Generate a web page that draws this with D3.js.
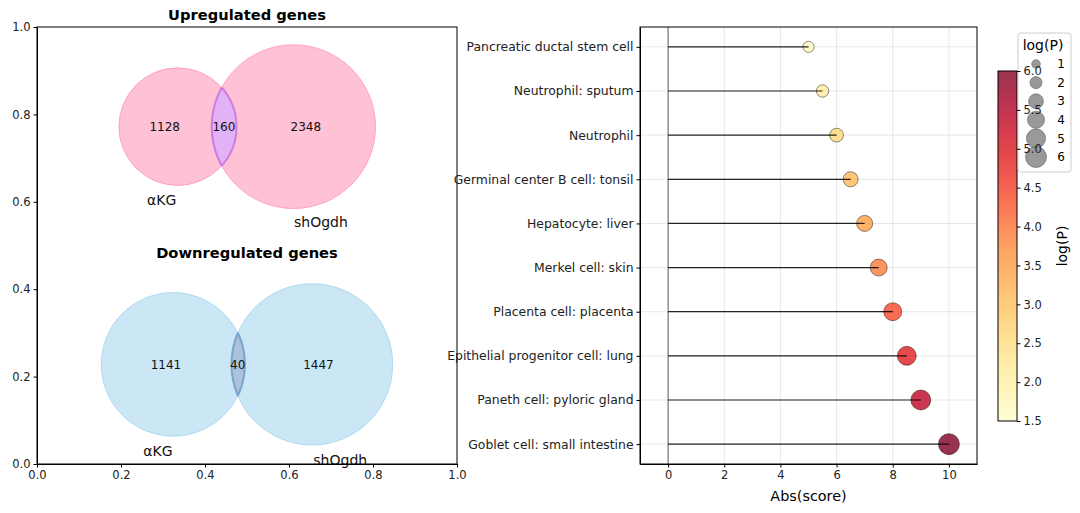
<!DOCTYPE html>
<html>
<head>
<meta charset="utf-8">
<script src="https://cdn.jsdelivr.net/npm/d3@7"></script>
<style>
  body { margin: 0; background: #fff; }
  svg { font-family: "DejaVu Sans", sans-serif; }
</style>
</head>
<body>
<svg id="chart" width="1080" height="513"></svg>
<script>
// Venn data
const vennSets = ['αKG', 'shOgdh'];
const upCounts = [1128, 160, 2348];
const downCounts = [1141, 40, 1447];

// Lollipop data
const cellTypes = [
  'Pancreatic ductal stem cell',
  'Neutrophil: sputum',
  'Neutrophil',
  'Germinal center B cell: tonsil',
  'Hepatocyte: liver',
  'Merkel cell: skin',
  'Placenta cell: placenta',
  'Epithelial progenitor cell: lung',
  'Paneth cell: pyloric gland',
  'Goblet cell: small intestine'
];
const scores = [5.0, 5.5, 6.0, 6.5, 7.0, 7.5, 8.0, 8.5, 9.0, 10.0];
const logP = [1.7, 2.1, 2.6, 3.1, 3.5, 3.9, 4.4, 4.9, 5.4, 6.0];
const sizeLegend = [1, 2, 3, 4, 5, 6];
const unitTicks = [0, 0.2, 0.4, 0.6, 0.8, 1.0];
const scoreTicks = [0, 2, 4, 6, 8, 10];
const cbarTicks = [1.5, 2.0, 2.5, 3.0, 3.5, 4.0, 4.5, 5.0, 5.5, 6.0];

const svg = d3.select('#chart');

// ---------- Left panel: Venn diagrams ----------
const lx = d3.scaleLinear().domain([0, 1]).range([37, 457]);
const ly = d3.scaleLinear().domain([0, 1]).range([464, 27]);

const left = svg.append('g');

function drawVenn(cfg) {
  // circles stay round on screen, radius measured on the x scale
  const rp = r => lx(r) - lx(0);
  const g = left.append('g');
  const id = 'clip' + cfg.key;
  g.append('clipPath').attr('id', id)
    .append('circle')
    .attr('cx', lx(cfg.a.x)).attr('cy', ly(cfg.a.y)).attr('r', rp(cfg.a.r));
  g.append('clipPath').attr('id', id + 'b')
    .append('circle')
    .attr('cx', lx(cfg.b.x)).attr('cy', ly(cfg.b.y)).attr('r', rp(cfg.b.r));
  [cfg.a, cfg.b].forEach(c => {
    g.append('circle')
      .attr('cx', lx(c.x)).attr('cy', ly(c.y)).attr('r', rp(c.r))
      .attr('fill', cfg.fill).attr('stroke', cfg.stroke).attr('stroke-width', 1);
  });
  // intersection lens: b clipped by a, then a's outline clipped by b
  g.append('circle')
    .attr('clip-path', `url(#${id})`)
    .attr('cx', lx(cfg.b.x)).attr('cy', ly(cfg.b.y)).attr('r', rp(cfg.b.r))
    .attr('fill', cfg.mid).attr('stroke', cfg.midStroke).attr('stroke-width', 2);
  g.append('circle')
    .attr('clip-path', `url(#${id}b)`)
    .attr('cx', lx(cfg.a.x)).attr('cy', ly(cfg.a.y)).attr('r', rp(cfg.a.r))
    .attr('fill', 'none').attr('stroke', cfg.midStroke).attr('stroke-width', 2);
  // count labels
  cfg.counts.forEach((v, i) => {
    g.append('text')
      .attr('x', lx(cfg.countX[i])).attr('y', ly(cfg.a.y))
      .attr('dy', '0.35em').attr('text-anchor', 'middle')
      .attr('font-size', 12).attr('fill', '#111').text(v);
  });
  // set labels
  vennSets.forEach((s, i) => {
    g.append('text')
      .attr('x', lx(cfg.labels[i][0])).attr('y', ly(cfg.labels[i][1]))
      .attr('dy', '0.35em').attr('text-anchor', 'middle')
      .attr('font-size', 14).attr('fill', '#111').text(s);
  });
  g.append('text')
    .attr('x', lx(0.5)).attr('y', cfg.titleY)
    .attr('text-anchor', 'middle').attr('font-size', 14.7)
    .attr('font-weight', 'bold').text(cfg.title);
}

drawVenn({
  key: 'up', title: 'Upregulated genes', titleY: 20,
  a: { x: 0.335, y: 0.772, r: 0.140 },
  b: { x: 0.611, y: 0.772, r: 0.195 },
  fill: 'rgba(255,160,190,0.65)', stroke: 'rgba(255,140,180,0.7)',
  mid: 'rgb(225,178,245)', midStroke: 'rgba(200,110,225,0.8)',
  counts: upCounts, countX: [0.304, 0.445, 0.64],
  labels: [[0.297, 0.605], [0.676, 0.553]]
});
drawVenn({
  key: 'down', title: 'Downregulated genes', titleY: 258,
  a: { x: 0.324, y: 0.228, r: 0.171 },
  b: { x: 0.655, y: 0.228, r: 0.192 },
  fill: 'rgba(160,212,238,0.55)', stroke: 'rgba(140,200,235,0.6)',
  mid: 'rgb(172,194,218)', midStroke: 'rgba(110,155,200,0.8)',
  counts: downCounts, countX: [0.307, 0.478, 0.67],
  labels: [[0.288, 0.03], [0.722, 0.01]]
});

left.append('g').attr('transform', `translate(0,${ly(0)})`)
  .call(d3.axisBottom(lx).tickValues(unitTicks).tickFormat(d3.format('.1f')).tickSize(3.5).tickSizeOuter(0));
left.append('g').attr('transform', `translate(${lx(0)},0)`)
  .call(d3.axisLeft(ly).tickValues(unitTicks).tickFormat(d3.format('.1f')).tickSize(3.5).tickSizeOuter(0));
left.append('rect')
  .attr('x', lx(0)).attr('y', ly(1))
  .attr('width', lx(1) - lx(0)).attr('height', ly(0) - ly(1))
  .attr('fill', 'none').attr('stroke', '#000').attr('stroke-width', 1);

// ---------- Right panel: lollipop ----------
const rx = d3.scaleLinear().domain([-1, 11]).range([640, 977]);
const ry = d3.scaleLinear().domain([-0.45, 9.45]).range([27, 464]);
const rSize = d3.scaleSqrt().domain([0, 6]).range([0, 10.5]);
const color = d3.scaleSequential(d3.interpolateYlOrRd).domain([1.5, 6]);

const right = svg.append('g');

// grid
right.append('g').selectAll('line').data(scoreTicks).join('line')
  .attr('x1', d => rx(d)).attr('x2', d => rx(d))
  .attr('y1', ry(-0.45)).attr('y2', ry(9.45))
  .attr('stroke', '#b0b0b0').attr('stroke-opacity', 0.3);
right.append('g').selectAll('line').data(cellTypes).join('line')
  .attr('x1', rx(-1)).attr('x2', rx(11))
  .attr('y1', (d, i) => ry(i)).attr('y2', (d, i) => ry(i))
  .attr('stroke', '#b0b0b0').attr('stroke-opacity', 0.3);

// zero line
right.append('line')
  .attr('x1', rx(0)).attr('x2', rx(0))
  .attr('y1', ry(-0.45)).attr('y2', ry(9.45))
  .attr('stroke', '#000').attr('stroke-width', 0.8).attr('stroke-opacity', 0.75);

// markers
right.append('g').selectAll('circle').data(scores).join('circle')
  .attr('cx', d => rx(d)).attr('cy', (d, i) => ry(i))
  .attr('r', (d, i) => rSize(logP[i]))
  .attr('fill', (d, i) => color(logP[i])).attr('fill-opacity', 0.8)
  .attr('stroke', '#000').attr('stroke-opacity', 0.55).attr('stroke-width', 0.8);

// stems
right.append('g').selectAll('line').data(scores).join('line')
  .attr('x1', rx(0)).attr('x2', d => rx(d))
  .attr('y1', (d, i) => ry(i)).attr('y2', (d, i) => ry(i))
  .attr('stroke', '#000').attr('stroke-width', 1.2).attr('stroke-opacity', 0.85);

right.append('g').attr('transform', `translate(0,${ry(9.45)})`)
  .call(d3.axisBottom(rx).tickValues(scoreTicks).tickSize(3.5).tickSizeOuter(0));
right.append('g').attr('class', 'cats').attr('transform', `translate(${rx(-1)},0)`)
  .call(d3.axisLeft(ry).tickValues(d3.range(cellTypes.length)).tickFormat(i => cellTypes[i]).tickSize(3.5).tickSizeOuter(0));
right.append('rect')
  .attr('x', rx(-1)).attr('y', ry(-0.45))
  .attr('width', rx(11) - rx(-1)).attr('height', ry(9.45) - ry(-0.45))
  .attr('fill', 'none').attr('stroke', '#000').attr('stroke-width', 1);
right.append('text')
  .attr('x', rx(5)).attr('y', 501).attr('text-anchor', 'middle')
  .attr('font-size', 14.4).text('Abs(score)');

// ---------- Colorbar ----------
const cb = { x: 998, w: 19 };
const cy = d3.scaleLinear().domain([1.5, 6]).range([421, 71]);
const defs = svg.append('defs');
const grad = defs.append('linearGradient').attr('id', 'cbgrad')
  .attr('x1', 0).attr('x2', 0).attr('y1', 1).attr('y2', 0);
d3.range(0, 1.0001, 0.05).forEach(t => {
  grad.append('stop').attr('offset', t)
    .attr('stop-color', color(1.5 + t * 4.5)).attr('stop-opacity', 0.8);
});
svg.append('rect')
  .attr('x', cb.x).attr('y', cy(6)).attr('width', cb.w).attr('height', cy(1.5) - cy(6))
  .attr('fill', 'url(#cbgrad)').attr('stroke', '#000').attr('stroke-width', 1);

// size legend (drawn before tick labels, which show through)
const lg = svg.append('g');
lg.append('rect')
  .attr('x', 1018).attr('y', 33).attr('width', 53).attr('height', 139).attr('rx', 3)
  .attr('fill', '#fff').attr('fill-opacity', 0.8)
  .attr('stroke', '#cccccc').attr('stroke-width', 1);
lg.append('text').attr('x', 1043).attr('y', 50).attr('text-anchor', 'middle')
  .attr('font-size', 14).text('log(P)');
const legY = d3.scaleLinear().domain([1, 6]).range([64, 157]);
lg.selectAll('circle').data(sizeLegend).join('circle')
  .attr('cx', 1036).attr('cy', d => legY(d)).attr('r', d => rSize(d))
  .attr('fill', '#808080').attr('fill-opacity', 0.8)
  .attr('stroke', '#666').attr('stroke-opacity', 0.6);
lg.selectAll('text.lab').data(sizeLegend).join('text').attr('class', 'lab')
  .attr('x', 1061).attr('y', d => legY(d)).attr('dy', '0.35em')
  .attr('text-anchor', 'middle').attr('font-size', 12).text(d => d);

svg.append('g').attr('transform', `translate(${cb.x + cb.w},0)`)
  .call(d3.axisRight(cy).tickValues(cbarTicks).tickFormat(d3.format('.1f')).tickSize(3.5).tickSizeOuter(0))
  .call(g => g.select('.domain').remove());
svg.append('text')
  .attr('transform', `translate(1062,246) rotate(-90)`)
  .attr('text-anchor', 'middle').attr('dy', '0.35em')
  .attr('font-size', 14).text('log(P)');

// shared axis styling
svg.selectAll('.tick text').attr('font-size', 11.5).attr('fill', '#222')
  .attr('font-family', '"DejaVu Sans", sans-serif');
svg.selectAll('.cats .tick text').attr('font-size', 12.4);
svg.selectAll('.tick line').attr('stroke', '#000');
svg.selectAll('.domain').attr('stroke', '#000');
</script>
</body>
</html>
